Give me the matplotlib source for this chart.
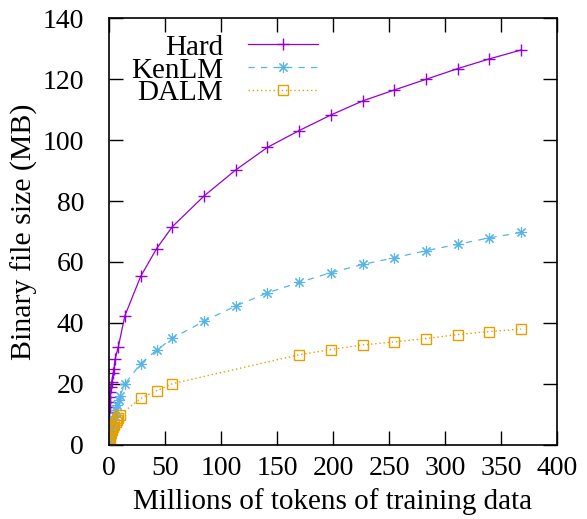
import matplotlib.pyplot as plt

# data (millions of tokens vs binary file size in MB)
hard_x = [0.05, 0.1, 0.2, 0.3, 0.4, 0.5, 0.7, 0.9, 1.2, 1.6, 2.4, 3.8, 4.5, 5.4, 8.3,
          14.2, 28.3, 42.5, 56.6, 85.0, 113.2, 141.5, 169.8, 198.1, 226.4, 254.7,
          283.0, 311.3, 339.6, 367.9]
hard_y = [4.5, 6.0, 7.6, 9.3, 10.9, 12.6, 14.2, 15.8, 17.5, 19.1, 20.8, 23.7, 24.8, 28.1, 32.2,
          42.4, 55.3, 64.4, 71.6, 81.7, 90.2, 97.6, 103.1, 108.2, 112.8, 116.4,
          119.9, 123.4, 126.6, 129.5]

ken_x = [0.05, 0.1, 0.2, 0.3, 0.5, 0.7, 1.0, 1.5, 2.4, 3.3, 3.8, 5.4, 6.3, 7.4, 8.9, 9.8,
         14.2, 28.3, 42.5, 56.6, 85.0, 113.2, 141.5, 169.8, 198.1, 226.4, 254.7,
         283.0, 311.3, 339.6, 367.9]
ken_y = [1.0, 1.8, 2.6, 3.4, 4.2, 5.0, 5.6, 6.0, 6.6, 7.2, 8.2, 9.5, 11.5, 13.1, 14.8, 16.1,
         20.0, 26.7, 31.1, 35.0, 40.6, 45.6, 49.9, 53.3, 56.5, 59.2, 61.4,
         63.7, 65.8, 67.9, 69.7]

dalm_x = [0.05, 0.1, 0.2, 0.4, 0.7, 1.2, 1.8, 2.4, 3.5, 4.7, 5.9, 7.1, 8.3, 9.4,
          28.3, 42.5, 56.6, 169.8, 198.1, 226.4, 254.7, 283.0, 311.3, 339.6, 367.9]
dalm_y = [0.3, 0.6, 1.0, 1.6, 2.4, 3.2, 4.0, 4.9, 5.8, 6.6, 7.4, 8.2, 9.0, 9.8,
          15.3, 17.8, 20.1, 29.6, 31.3, 32.8, 33.8, 34.9, 36.2, 37.2, 38.0]

plt.rcParams['font.family'] = ['Liberation Serif', 'DejaVu Serif']
plt.rcParams['font.size'] = 20

fig = plt.figure(figsize=(5.87, 5.19), dpi=100)
ax = fig.add_axes([0.1857, 0.1426, 0.7632, 0.8227])

ax.plot(hard_x, hard_y, color='#9400D3', linestyle='-', linewidth=0.9,
        marker='+', markersize=9, markeredgewidth=1.0, label='Hard')
ax.plot(ken_x, ken_y, color='#56B4E9', linestyle=(0, (5, 5)), linewidth=0.9,
        marker=(8, 2, 0), markersize=8, markeredgewidth=0.8, label='KenLM')
ax.plot(dalm_x, dalm_y, color='#E69F00', linestyle=(0, (1, 2)), linewidth=1.0,
        marker='s', markersize=7, markerfacecolor='none', markeredgewidth=1.0, label='DALM')

ax.set_xlim(0, 400)
ax.set_ylim(0, 140)
ax.set_xticks(range(0, 401, 50))
ax.set_yticks(range(0, 141, 20))
ax.tick_params(direction='in', length=10, width=1, top=True, right=True, labelsize=20)
ax.tick_params(axis='x', pad=8)
ax.tick_params(axis='y', pad=18)
for s in ax.spines.values():
    s.set_linewidth(1.2)

ax.set_xlabel('Millions of tokens of training data', fontsize=21, labelpad=5)
ax.set_ylabel('Binary file size (MB)', fontsize=21.5, labelpad=3)

ax.legend(loc='upper right', bbox_to_anchor=(0.4665, 0.962), frameon=False,
          markerfirst=False, handlelength=2.4, handletextpad=0.85,
          labelspacing=-0.12, borderpad=0, borderaxespad=0, fontsize=21)

plt.savefig('out.png', dpi=100)
